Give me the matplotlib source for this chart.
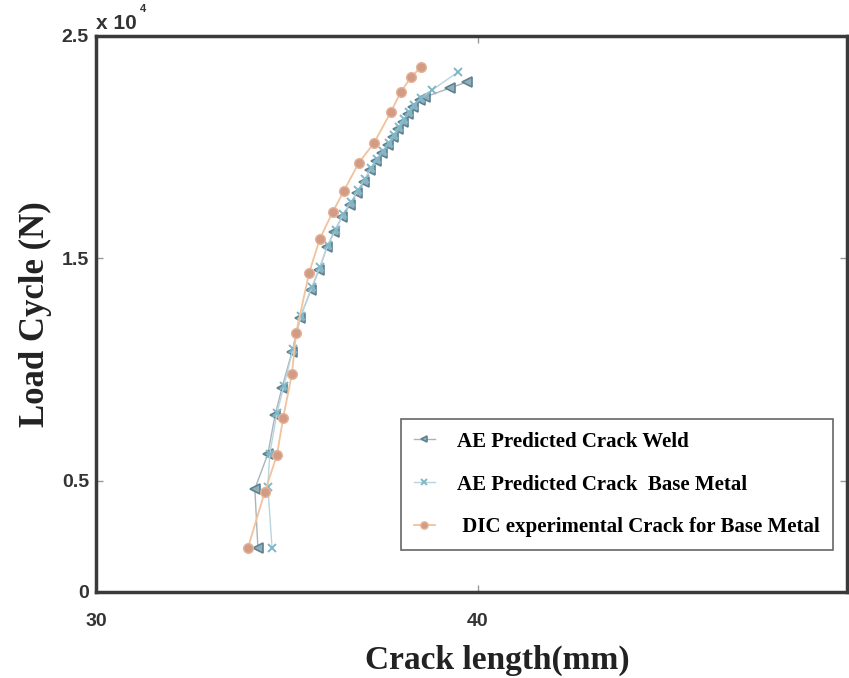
import numpy as np
import matplotlib
matplotlib.use("Agg")
import matplotlib.pyplot as plt

# crack length (mm) vs load cycles
dic_x = [33.98, 34.42, 34.74, 34.90, 35.13, 35.24, 35.58, 35.86, 36.20, 36.49,
         36.88, 37.28, 37.72, 37.98, 38.25, 38.51]
dic_y = [1980, 4500, 6160, 7820, 9800, 11650, 14340, 15870, 17090, 18030,
         19290, 20190, 21580, 22480, 23150, 23600]

weld_x = [34.24, 34.16, 34.50, 34.69, 34.87, 35.13, 35.34, 35.63, 35.84, 36.05,
          36.23, 36.44, 36.65, 36.83, 37.02, 37.17, 37.33, 37.49, 37.64, 37.77,
          37.91, 38.04, 38.17, 38.30, 38.48, 38.61, 39.27, 39.71]
weld_y = [1980, 4630, 6200, 7960, 9170, 10790, 12320, 13580, 14480, 15510,
          16190, 16860, 17400, 17940, 18430, 18970, 19380, 19740, 20100, 20460,
          20820, 21130, 21490, 21800, 22120, 22250, 22660, 22930]

base_x = [34.61, 34.50, 34.55, 34.74, 34.92, 35.16, 35.37, 35.65, 35.86, 36.07,
          36.28, 36.47, 36.68, 36.86, 37.04, 37.20, 37.36, 37.51, 37.67, 37.80,
          37.93, 38.06, 38.19, 38.32, 38.51, 38.80, 39.48]
base_y = [1980, 4720, 6200, 8040, 9260, 10930, 12410, 13710, 14610, 15600,
          16280, 17000, 17540, 18070, 18570, 19060, 19470, 19830, 20190, 20550,
          20910, 21260, 21580, 21890, 22210, 22570, 23380]

plt.rcParams['font.family'] = ['Liberation Serif', 'DejaVu Serif']

fig = plt.figure(figsize=(8.49, 6.78), dpi=100)
ax = fig.add_axes([0.113, 0.127, 0.8846, 0.82])

ax.plot(weld_x, weld_y, '-', color='#a9b4ba', lw=1.0, marker='<', ms=6.5,
        mfc='#8fb0bc', mec='#5f8290', mew=1.2, label='AE Predicted Crack Weld')
ax.plot(base_x, base_y, '-', color='#b7d5df', lw=1.0, marker='x', ms=5.5,
        mec='#7fb8c8', mew=1.4, label='AE Predicted Crack  Base Metal')
ax.plot(dic_x, dic_y, '-', color='#f2c29a', lw=1.3, marker='o', ms=7,
        mfc='#d29c84', mec='#e3b39a', mew=1,
        label=' DIC experimental Crack for Base Metal')

ax.set_xlim(30, 49.66)
ax.set_ylim(0, 25000)
ax.set_xticks([30, 40])
ax.set_yticks([0, 5000, 15000, 25000])
ax.set_yticklabels(['0', '0.5', '1.5', '2.5'])
ax.tick_params(direction='in', length=5, width=1, color='#999999',
               top=True, right=True, labelsize=14, labelcolor='#333333')
ax.tick_params(axis='x', pad=15)
ax.tick_params(axis='y', pad=5)
for lab in ax.get_xticklabels() + ax.get_yticklabels():
    lab.set_family('Liberation Sans')
    lab.set_fontweight('bold')
for sp in ax.spines.values():
    sp.set_linewidth(2.5)
    sp.set_color('#3a3a3a')

ax.text(0.0, 1.006, 'x 10', transform=ax.transAxes, fontsize=15,
        family='Liberation Sans', fontweight='bold', color='#333333',
        ha='left', va='bottom')
ax.text(0.058, 1.04, '4', transform=ax.transAxes, fontsize=8,
        family='Liberation Sans', fontweight='bold', color='#333333',
        ha='left', va='bottom')

ax.set_xlabel('Crack length(mm)', fontsize=24, fontweight='bold',
              color='#222222')
ax.xaxis.set_label_coords(0.535, -0.095)
ax.set_ylabel('Load Cycle (N)', fontsize=25, fontweight='bold',
              color='#222222', labelpad=7)

leg = ax.legend(loc='lower right', bbox_to_anchor=(0.981, 0.0755),
                prop={'weight': 'bold', 'size': 15}, handlelength=1.0,
                handletextpad=1.1, borderpad=0.6, labelspacing=1.1,
                borderaxespad=0, markerscale=0.75,
                fancybox=False, framealpha=1)
leg.get_frame().set_edgecolor('#666666')
leg.get_frame().set_linewidth(1.2)

fig.savefig('out.png', dpi=100)
